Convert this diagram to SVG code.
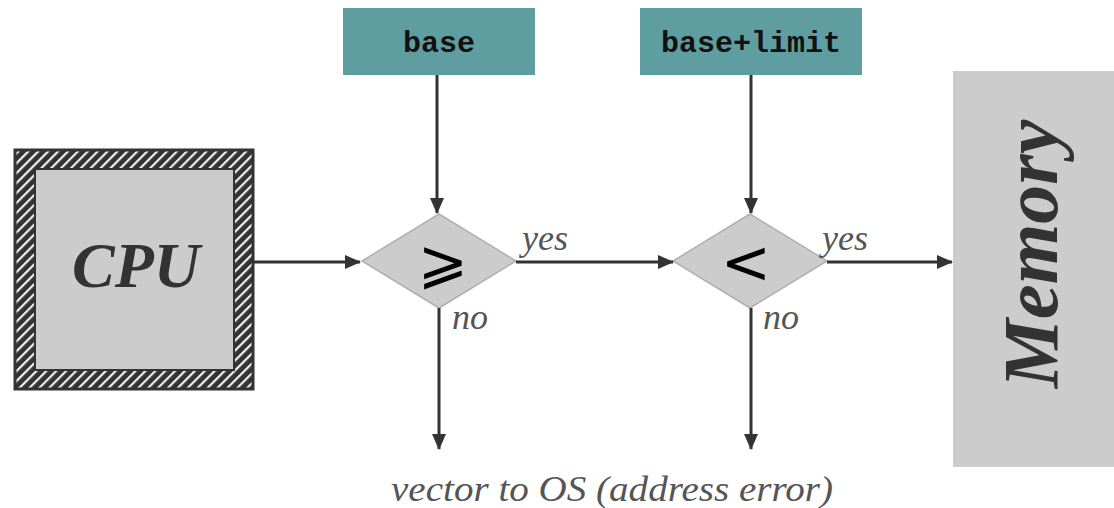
<svg xmlns="http://www.w3.org/2000/svg" width="1114" height="508" viewBox="0 0 1114 508">
  <style>
    .conn { stroke: #333333; stroke-width: 3; fill: none; }
    .lbl { font-family: "Liberation Serif", "Times New Roman", serif; font-style: italic; fill: #555555; font-size: 36px; }
    .reg { fill: #5f9ea0; }
    .regtxt { font-family: "Liberation Mono", "Courier New", monospace; font-weight: bold; font-size: 30px; fill: #111111; text-anchor: middle; }
    .diamond { fill: #cccccc; stroke: #b0b0b0; stroke-width: 1.5; }
    .op { font-family: "DejaVu Sans", sans-serif; fill: #000000; text-anchor: middle; }
    .big { font-family: "Liberation Serif", "Times New Roman", serif; font-weight: bold; font-style: italic; fill: #333333; text-anchor: middle; }
  </style>
  <defs>
    <marker id="arrow" markerWidth="16" markerHeight="14" refX="15" refY="7" orient="auto" markerUnits="userSpaceOnUse">
      <path d="M0,0 L16,7 L0,14 Z" fill="#333333"/>
    </marker>
    <pattern id="hatch" width="7" height="7" patternUnits="userSpaceOnUse" patternTransform="rotate(45)">
      <rect width="7" height="7" fill="#333333"/>
      <rect x="0" y="0" width="2.2" height="7" fill="#eeeeee"/>
    </pattern>
  </defs>
  <rect width="1114" height="508" fill="#ffffff"/>

  <g id="cpu">
    <rect x="15" y="150" width="238" height="239" fill="url(#hatch)"/>
    <rect x="15" y="150" width="238" height="239" fill="none" stroke="#333333" stroke-width="3"/>
    <rect x="35" y="169" width="199" height="201" fill="#cccccc" stroke="#333333" stroke-width="2"/>
    <text class="big" x="136" y="287" font-size="64">CPU</text>
  </g>

  <g id="base">
    <rect class="reg" x="343" y="8" width="192" height="67"/>
    <text class="regtxt" x="439" y="52">base</text>
  </g>

  <g id="baselimit">
    <rect class="reg" x="640" y="8" width="222" height="67"/>
    <text class="regtxt" x="751" y="52">base+limit</text>
  </g>

  <g id="cmp1">
    <polygon class="diamond" points="439,214 516,261 439,308 362,261"/>
    <text class="op" x="443" y="282" font-size="60">⩾</text>
  </g>

  <g id="cmp2">
    <polygon class="diamond" points="750,214 827,261 750,308 673,261"/>
    <text class="op" x="746" y="283" font-size="60">&lt;</text>
  </g>

  <g id="memory">
    <rect x="953" y="71" width="161" height="396" fill="#cccccc"/>
    <text class="big" transform="translate(1057,254) rotate(-90)" font-size="78">Memory</text>
  </g>

  <g id="connectors">
    <line class="conn" x1="253" y1="262" x2="360" y2="262" marker-end="url(#arrow)"/>
    <line class="conn" x1="437" y1="75" x2="437" y2="213" marker-end="url(#arrow)"/>
    <line class="conn" x1="751" y1="75" x2="751" y2="213" marker-end="url(#arrow)"/>
    <line class="conn" x1="516" y1="262" x2="673" y2="262" marker-end="url(#arrow)"/>
    <line class="conn" x1="827" y1="262" x2="952" y2="262" marker-end="url(#arrow)"/>
    <line class="conn" x1="439" y1="308" x2="439" y2="449" marker-end="url(#arrow)"/>
    <line class="conn" x1="751" y1="308" x2="751" y2="449" marker-end="url(#arrow)"/>
  </g>

  <g id="labels">
    <text class="lbl" x="522" y="250">yes</text>
    <text class="lbl" x="822" y="250">yes</text>
    <text class="lbl" x="452" y="329">no</text>
    <text class="lbl" x="763" y="329">no</text>
    <text class="lbl" x="391" y="501" font-size="37" textLength="442" lengthAdjust="spacingAndGlyphs">vector to OS (address error)</text>
  </g>
</svg>
